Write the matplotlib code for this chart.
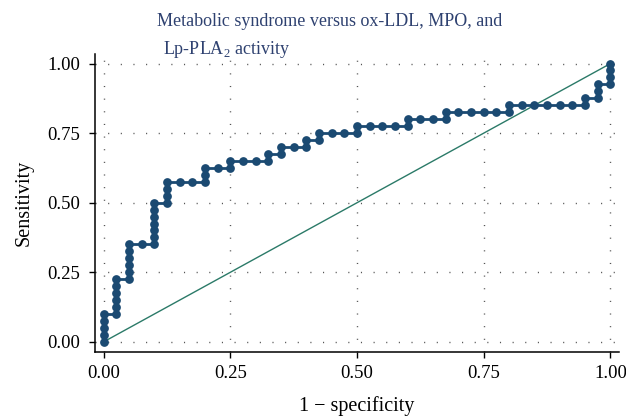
import numpy as np
import matplotlib
matplotlib.use("Agg")
import matplotlib.pyplot as plt
from matplotlib.ticker import FormatStrFormatter

plt.rcParams['font.family'] = ['Liberation Serif', 'DejaVu Serif']

# ROC points (1 - specificity, sensitivity)
fpr = [0, 0, 0, 0, 0,
       0.025, 0.025, 0.025, 0.025, 0.025, 0.025,
       0.05, 0.05, 0.05, 0.05, 0.05, 0.05,
       0.075,
       0.1, 0.1, 0.1, 0.1, 0.1, 0.1, 0.1,
       0.125, 0.125, 0.125, 0.125,
       0.15, 0.175,
       0.2, 0.2, 0.2,
       0.225,
       0.25, 0.25,
       0.275, 0.3,
       0.325, 0.325,
       0.35, 0.35,
       0.375,
       0.4, 0.4,
       0.425, 0.425,
       0.45, 0.475,
       0.5, 0.5,
       0.525, 0.55, 0.575,
       0.6, 0.6,
       0.625, 0.65,
       0.675, 0.675,
       0.7, 0.725, 0.75, 0.775,
       0.8, 0.8,
       0.825, 0.85, 0.875, 0.9, 0.925,
       0.95, 0.95,
       0.975, 0.975, 0.975,
       1, 1, 1, 1]
tpr = [0, 0.025, 0.05, 0.075, 0.1,
       0.1, 0.125, 0.15, 0.175, 0.2, 0.225,
       0.225, 0.25, 0.275, 0.3, 0.325, 0.35,
       0.35,
       0.35, 0.375, 0.4, 0.425, 0.45, 0.475, 0.5,
       0.5, 0.525, 0.55, 0.575,
       0.575, 0.575,
       0.575, 0.6, 0.625,
       0.625,
       0.625, 0.65,
       0.65, 0.65,
       0.65, 0.675,
       0.675, 0.7,
       0.7,
       0.7, 0.725,
       0.725, 0.75,
       0.75, 0.75,
       0.75, 0.775,
       0.775, 0.775, 0.775,
       0.775, 0.8,
       0.8, 0.8,
       0.8, 0.825,
       0.825, 0.825, 0.825, 0.825,
       0.825, 0.85,
       0.85, 0.85, 0.85, 0.85, 0.85,
       0.85, 0.875,
       0.875, 0.9, 0.925,
       0.925, 0.95, 0.975, 1.0]
ref_line = [0, 1]
ticks = [0, 0.25, 0.5, 0.75, 1.0]

navy = '#1b4a72'
title_col = '#2e4170'

fig = plt.figure(figsize=(6.26, 4.17), dpi=100)
ax = fig.add_axes([0.152, 0.157, 0.837, 0.714])

ax.plot(fpr, tpr, '-o', color=navy, markersize=6.3, linewidth=2.0,
        markeredgewidth=0, zorder=3)
ax.plot(ref_line, ref_line, color='#2b7a68', linewidth=1.0, zorder=2)

ax.set_xlim(-0.017, 1.017)
ax.set_ylim(-0.035, 1.035)
ax.set_xticks(ticks)
ax.set_yticks(ticks)
ax.xaxis.set_major_formatter(FormatStrFormatter('%.2f'))
ax.yaxis.set_major_formatter(FormatStrFormatter('%.2f'))
ax.tick_params(direction='out', length=4.5, width=1.0, labelsize=13.5,
               colors='black')
ax.tick_params(axis='y', pad=6)
ax.tick_params(axis='x', pad=5)

for s in ['top', 'right']:
    ax.spines[s].set_visible(False)
for s in ['left', 'bottom']:
    ax.spines[s].set_linewidth(1.1)

# dotted grid
ax.grid(True, color='#555555', linewidth=1.0, linestyle=(0, (0.8, 8.3)))
ax.set_axisbelow(True)

ax.set_xlabel('1 \u2212 specificity', fontsize=14.5, labelpad=10)
ax.set_ylabel('Sensitivity', fontsize=14.5, labelpad=10)

fig.text(157 / 626, 1 - 26 / 417, 'Metabolic syndrome versus ox-LDL, MPO, and',
         fontsize=13, color=title_col, ha='left', va='baseline')
fig.text(163 / 626, 1 - 54 / 417, r'Lp-PLA$_\mathregular{2}$ activity',
         fontsize=13, color=title_col, ha='left', va='baseline')

fig.savefig('out.png', dpi=100)
